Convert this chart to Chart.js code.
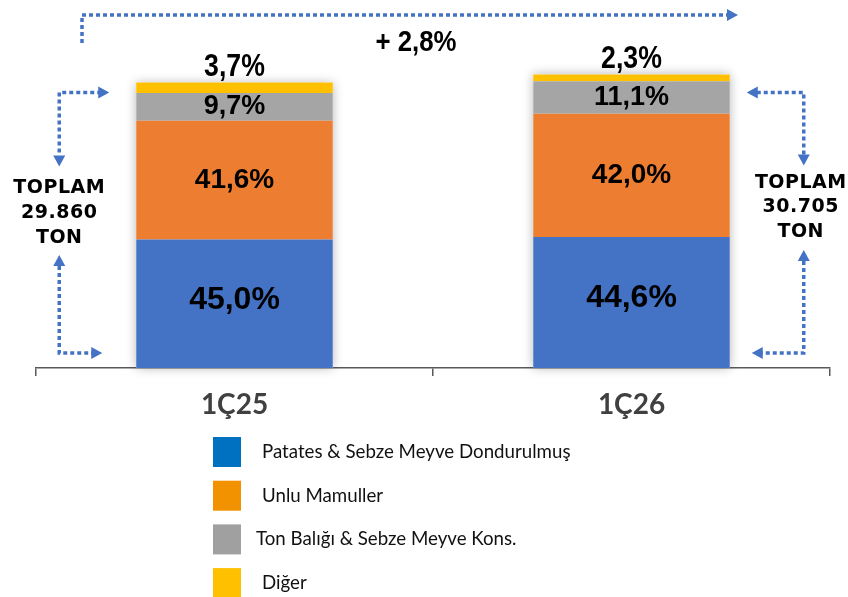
<!DOCTYPE html>
<html lang="tr">
<head>
<meta charset="utf-8">
<title>Satış dağılımı</title>
<script src="https://cdn.jsdelivr.net/npm/chart.js@4.4.1/dist/chart.umd.min.js"></script>
<style>
  html, body { margin: 0; padding: 0; background: #fff; }
  #chart-container { width: 848px; height: 597px; }
</style>
</head>
<body>
<div id="chart-container"><canvas id="chart" width="848" height="597"></canvas></div>
<script>
// veriler
const periods = ['1Ç25', '1Ç26']
const totalTon = [29860, 30705]
const totalLabels = ['29.860', '30.705']
const categories = ['Patates & Sebze Meyve Dondurulmuş', 'Unlu Mamuller', 'Ton Balığı & Sebze Meyve Kons.', 'Diğer']
const patatesShare = [45.0, 44.6]
const unluShare = [41.6, 42.0]
const tonShare = [9.7, 11.1]
const digerShare = [3.7, 2.3]
const growthLabel = '+ 2,8%'

const shares = [patatesShare, unluShare, tonShare, digerShare]
const barColors = ['#4472C4', '#ED7D31', '#A5A5A5', '#FFC000']
const legendColors = ['#0070C0', '#F39200', '#A0A0A0', '#FFC000']
const arrowBlue = '#4472C4'

const fmt = v => v.toFixed(1).replace('.', ',') + '%'
const toTon = (share, i) => share * totalTon[i] / 100

const datasets = shares.map((s, k) => ({
    label: categories[k],
    data: s.map(toTon),
    backgroundColor: barColors[k],
    borderWidth: 0,
    categoryPercentage: 0.5,
    barPercentage: 0.99
}))

// barların arkasındaki hafif gölge
const shadowPlugin = {
    id: 'barShadow',
    beforeDatasetsDraw(chart) {
        const ctx = chart.ctx
        const first = chart.getDatasetMeta(0).data
        const last = chart.getDatasetMeta(shares.length - 1).data
        ctx.save()
        ctx.shadowColor = 'rgba(0,0,0,0.28)'
        ctx.shadowBlur = 10
        ctx.fillStyle = '#fff'
        first.forEach((bar, j) => {
            const top = last[j].y
            ctx.fillRect(bar.x - bar.width / 2, top, bar.width, bar.base - top)
        })
        ctx.restore()
    }
}

const labelFonts = [
    'bold 32px "Liberation Sans", Arial',
    'bold 28px "Liberation Sans", Arial',
    'bold 27px "Liberation Sans", Arial',
    'bold 28px "Liberation Sans", Arial'
]

// dar ve uzun yazı (Arial Narrow benzeri)
function narrowText(ctx, txt, x, y, size) {
    ctx.save()
    ctx.translate(x, y)
    ctx.scale(0.86, 1)
    ctx.font = 'bold ' + size + 'px "Liberation Sans", Arial'
    ctx.fillText(txt, 0, 0)
    ctx.restore()
}

const labelPlugin = {
    id: 'segmentLabels',
    afterDatasetsDraw(chart) {
        const ctx = chart.ctx
        ctx.save()
        ctx.fillStyle = '#000'
        ctx.textAlign = 'center'
        ctx.textBaseline = 'middle'
        shares.forEach((s, k) => {
            const meta = chart.getDatasetMeta(k)
            meta.data.forEach((bar, j) => {
                ctx.font = labelFonts[k]
                let y = (bar.y + bar.base) / 2
                if (k === 0) y -= 4
                if (k === shares.length - 1) {
                    narrowText(ctx, fmt(s[j]), bar.x, bar.y - 15, 31)
                } else {
                    ctx.fillText(fmt(s[j]), bar.x, y)
                }
            })
        })
        ctx.restore()
    }
}

function headAt(ctx, x, y, dir) {
    const L = 11, W = 6
    ctx.beginPath()
    ctx.moveTo(x, y)
    if (dir === 'right') { ctx.lineTo(x - L, y - W); ctx.lineTo(x - L, y + W) }
    if (dir === 'left') { ctx.lineTo(x + L, y - W); ctx.lineTo(x + L, y + W) }
    if (dir === 'down') { ctx.lineTo(x - W, y - L); ctx.lineTo(x + W, y - L) }
    if (dir === 'up') { ctx.lineTo(x - W, y + L); ctx.lineTo(x + W, y + L) }
    ctx.closePath()
    ctx.fill()
}

function dotted(ctx, pts) {
    ctx.beginPath()
    ctx.moveTo(pts[0][0], pts[0][1])
    pts.slice(1).forEach(p => ctx.lineTo(p[0], p[1]))
    ctx.stroke()
}

// toplam okları ve yazıları
const annotationPlugin = {
    id: 'totals',
    afterDraw(chart) {
        const ctx = chart.ctx
        const bars = chart.getDatasetMeta(0).data
        const tops = chart.getDatasetMeta(shares.length - 1).data
        const b0 = bars[0], b1 = bars[1]
        const l0 = b0.x - b0.width / 2
        const r1 = b1.x + b1.width / 2
        const base = b0.base

        ctx.save()
        ctx.strokeStyle = arrowBlue
        ctx.fillStyle = arrowBlue
        ctx.lineWidth = 3.5
        ctx.setLineDash([4, 3])

        // sol
        const lx = l0 - 77
        const ly = tops[0].y + 10
        dotted(ctx, [[lx, ly + 60], [lx, ly], [l0 - 36, ly]])
        dotted(ctx, [[lx, 266], [lx, base - 15], [l0 - 43, base - 15]])
        // sağ
        const rx = r1 + 74
        const ry = tops[1].y + 18
        dotted(ctx, [[rx, ry + 62], [rx, ry], [r1 + 27, ry]])
        dotted(ctx, [[rx, 261], [rx, base - 15], [r1 + 32, base - 15]])
        // üst
        dotted(ctx, [[82, 43], [82, 15], [727, 15]])

        ctx.setLineDash([])
        headAt(ctx, l0 - 27, ly, 'right')
        headAt(ctx, lx, ly + 74, 'down')
        headAt(ctx, lx, 255, 'up')
        headAt(ctx, l0 - 34, base - 15, 'right')
        headAt(ctx, r1 + 17, ry, 'left')
        headAt(ctx, rx, ry + 73, 'down')
        headAt(ctx, rx, 250, 'up')
        headAt(ctx, r1 + 22, base - 15, 'left')
        headAt(ctx, 738, 15, 'right')

        // TOPLAM yazıları
        ctx.fillStyle = '#000'
        ctx.textAlign = 'center'
        ctx.textBaseline = 'middle'
        ctx.font = 'bold 19px "DejaVu Sans", Verdana'
        ctx.letterSpacing = '0.5px'
        const lines0 = ['TOPLAM', totalLabels[0], 'TON']
        const lines1 = ['TOPLAM', totalLabels[1], 'TON']
        lines0.forEach((t, i) => ctx.fillText(t, lx, 188 + i * 25))
        lines1.forEach((t, i) => ctx.fillText(t, rx - 3, 183 + i * 24.5))
        ctx.letterSpacing = '0px'

        // büyüme
        narrowText(ctx, growthLabel, (b0.x + b1.x) / 2 - 17, 43, 30)
        ctx.restore()

        // lejant
        ctx.save()
        ctx.textAlign = 'left'
        ctx.textBaseline = 'middle'
        ctx.font = '18.7px Lato, "Open Sans", sans-serif'
        chart.data.datasets.forEach((ds, k) => {
            const y = 437 + k * 43.7
            ctx.fillStyle = legendColors[k]
            ctx.fillRect(213, y, 28, 30)
            ctx.fillStyle = '#111'
            ctx.fillText(ds.label, k === 2 ? 256 : 262, y + 15)
        })
        ctx.restore()
    }
}

function draw() {
    const context = document.getElementById('chart').getContext('2d')
    const chart = new Chart(context, {
        type: 'bar',
        data: {
            labels: periods,
            datasets: datasets
        },
        options: {
            responsive: false,
            animation: false,
            devicePixelRatio: 1,
            layout: {
                padding: { left: 36, right: 18, top: 20, bottom: 0 }
            },
            scales: {
                x: {
                    stacked: true,
                    grid: {
                        offset: true,
                        drawOnChartArea: false,
                        tickLength: 8,
                        color: '#595959',
                        lineWidth: 1.5
                    },
                    border: { display: true, color: '#595959', width: 1.5 },
                    ticks: {
                        color: '#404040',
                        padding: 12,
                        font: { family: 'Lato', weight: 'bold', size: 28 }
                    },
                    afterFit: (scale) => { scale.height = 229 }
                },
                y: {
                    stacked: true,
                    display: false,
                    min: 0,
                    max: 36400
                }
            },
            plugins: {
                legend: { display: false },
                tooltip: { enabled: false }
            }
        },
        plugins: [shadowPlugin, labelPlugin, annotationPlugin]
    })
}

Promise.all([
    document.fonts.load('bold 28px Lato'),
    document.fonts.load('18px Lato'),
    document.fonts.load('bold 18px "DejaVu Sans"'),
    document.fonts.load('bold 30px "Liberation Sans"')
]).then(draw, draw)
</script>
</body>
</html>
